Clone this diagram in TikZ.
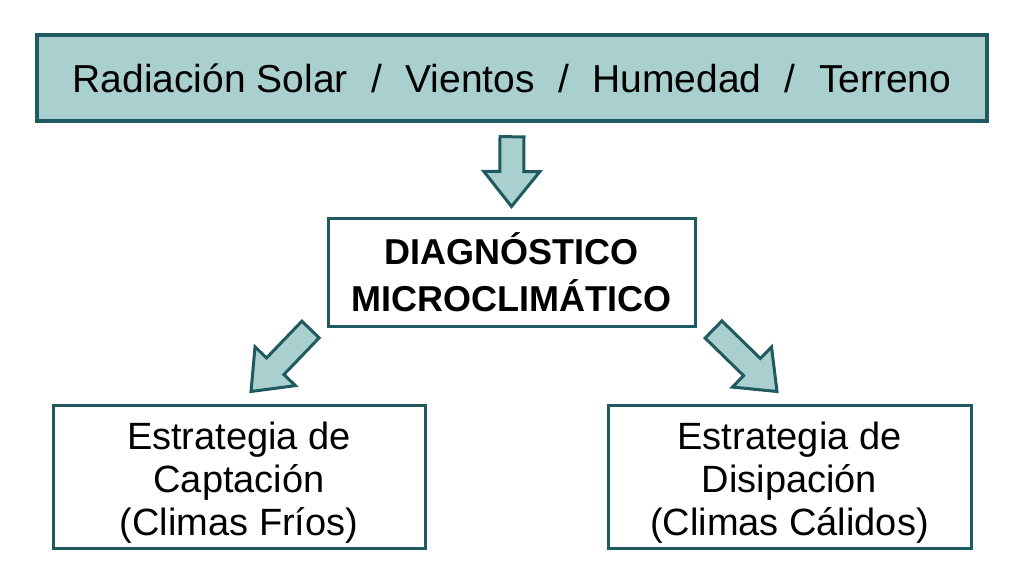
\documentclass[tikz,border=0pt]{standalone}
\usepackage{fontspec}
\setmainfont{Liberation Sans}
\usetikzlibrary{calc}
\definecolor{tealdark}{HTML}{1E5A5F}
\definecolor{tealfill}{HTML}{A9CFCE}
\tikzset{
  topbox/.style={draw=tealdark, fill=tealfill, line width=3.5pt, inner sep=0pt,
    minimum width=950pt, minimum height=86pt, font=\fontsize{39}{46}\selectfont},
  midbox/.style={draw=tealdark, fill=white, line width=3pt, inner sep=0pt, align=center,
    minimum width=367pt, minimum height=108pt, font=\fontsize{36}{47}\selectfont\bfseries},
  botbox/.style={draw=tealdark, fill=white, line width=3pt, inner sep=0pt, align=center,
    minimum height=143pt, font=\fontsize{38}{43}\selectfont},
  blockarr/.style={draw=tealdark, fill=tealfill, line width=3pt, line join=miter},
}
\newcommand\drawblockarrow[2]{%
  \coordinate (hh) at ($(#2)!35pt!(#1)$);
  \draw[blockarr] ($(#1)!12pt!90:(#2)$) -- ($(hh)!12pt!90:(#2)$) -- ($(hh)!28pt!90:(#2)$)
    -- (#2) -- ($(hh)!28pt!-90:(#2)$) -- ($(hh)!12pt!-90:(#2)$) -- ($(#1)!12pt!-90:(#2)$) -- cycle;}
\begin{document}
\begin{tikzpicture}[x=1pt,y=-1pt]
\useasboundingbox (0,0) rectangle (1024,572);
\node[topbox] (top) at (512,78) {Radiación Solar\hspace{0.6em}/\hspace{0.6em}Vientos\hspace{0.6em}/\hspace{0.6em}Humedad\hspace{0.6em}/\hspace{0.6em}Terreno};
\node[midbox] (mid) at (511.5,272) {DIAGNÓSTICO\\MICROCLIMÁTICO};
\node[botbox, minimum width=372pt] (bl) at (239,476.5) {\rule{0pt}{40pt}Estrategia de\\Captación\\(Climas Fríos)};
\node[botbox, minimum width=363pt] (br) at (789.5,476.5) {\rule{0pt}{40pt}Estrategia de\\Disipación\\(Climas Cálidos)};
\coordinate (a1s) at ($(top.south)+(0,14)$);
\coordinate (a1e) at ($(mid.north)+(0,-10)$);
\coordinate (a2s) at ($(mid.south west)+(-16,2)$);
\coordinate (a2e) at ($(bl.north)+(12,-12)$);
\coordinate (a3s) at ($(mid.south east)+(17,2)$);
\coordinate (a3e) at ($(br.north)+(-12.5,-12)$);
\drawblockarrow{a1s}{a1e}
\drawblockarrow{a2s}{a2e}
\drawblockarrow{a3s}{a3e}
\end{tikzpicture}
\end{document}
